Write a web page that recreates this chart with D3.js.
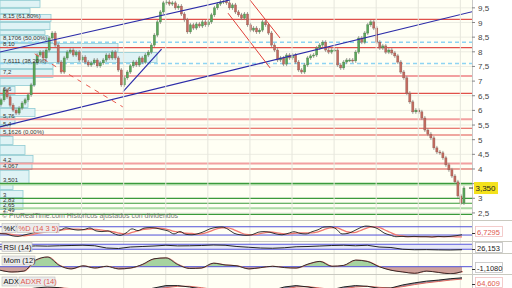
<!DOCTYPE html>
<html><head><meta charset="utf-8">
<script src="https://cdn.jsdelivr.net/npm/d3@7"></script>
<style>body{margin:0;background:#fff}svg{display:block}text{font-family:"Liberation Sans",Arial,sans-serif}</style>
</head><body><svg id="c" width="512" height="288"></svg>
<script>
// ---------- DATA ----------
const closes=[6.36,6.70,6.46,6.18,6.01,5.91,6.08,6.25,6.36,6.53,6.87,7.62,7.89,7.99,7.79,8.06,8.47,8.64,8.23,7.65,
7.31,7.79,7.99,8.06,7.89,7.99,7.72,7.82,7.65,7.55,7.62,7.72,7.52,7.62,7.72,7.89,7.79,7.99,7.79,7.38,
6.87,7.11,7.31,7.52,7.65,7.55,7.79,7.65,7.89,7.99,8.23,8.57,9.02,9.36,9.67,9.70,9.63,9.67,9.50,9.56,
9.29,9.09,8.68,8.92,8.81,8.95,8.88,9.02,8.92,9.02,9.26,9.50,9.63,9.70,9.73,9.67,9.50,9.60,9.36,9.26,
9.15,9.29,8.92,8.74,8.81,8.68,8.74,9.02,8.92,8.64,8.23,8.06,7.72,7.79,7.58,7.89,7.79,7.89,7.65,7.38,
7.31,7.55,7.79,7.86,7.89,8.13,8.23,8.33,8.06,7.99,8.06,8.06,7.55,7.45,7.65,7.72,7.72,7.69,7.99,8.47,
8.33,8.64,8.92,9.02,8.81,8.33,8.13,8.20,7.99,8.06,7.96,7.86,7.65,7.31,7.11,6.59,6.29,5.95,6.01,5.95,
5.74,5.33,5.19,5.06,4.72,4.58,4.55,4.38,4.14,3.97,3.76,3.56,3.08,2.84,3.35];
const firstOpen=6.20;
const lastPrice=3.35;
const priceTicks=[2.5,3,3.5,4,4.5,5,5.5,6,6.5,7,7.5,8,8.5,9,9.5];
const gridIdx=[26.8,40.8,54.8,68.8,82.8,96.8,110.8,124.8,138.8,152.8];
const redLevels=[9.11,8.14,6.58,5.39,5.16,4.00];
const pinkLevels=[7.17,5.70,4.19];
const blueDashLevels=[8.324,7.60];
const greenLevels=[3.51,3.00,2.83,2.45];
const lightGreenLevels=[3.47,2.66];
const profileEdges=[9.77,9.50,9.29,9.02,8.74,8.57,8.30,7.99,7.62,7.41,7.11,6.83,6.53,6.08,5.77,5.50,5.13,4.82,4.48,4.20,3.97,3.49,3.28,3.01,2.60];
const profileVol=[40,30,51,50,45,48,118,157,53,53,35,15,28,35,15,10,13,25,33,32,29,13,23,23];
const levelLabels=["8,15 (61,80%)","8,1706 (50,00%)","8,10","7,6111 (38,20%)","7,2","6,6","5,76","5,4","5,1626 (0,00%)","4,2","4,067","3,501","3","2,83","2,65","2,49"];
const levelLabelVals=[9.15,8.40,8.20,7.62,7.24,6.66,5.74,5.47,5.18,4.24,4.02,3.56,3.05,2.88,2.71,2.54];
const blueLines=[[-0.5,7.99,76.2,9.77],[-0.5,5.43,156.8,9.37],[40.6,6.64,53.4,8.09]];
const redLines=[[82.8,9.77,92.8,8.47],[75.5,9.32,89.5,7.45]];
const redDashedLines=[[11.2,7.93,40.5,6.12]];
const stochK=[30,28,15,10,20,30,40,45,50,55,56,72,62,56,60,71,50,45,50,30,18,35,65,52,70,74,70,60,50,28,45,25,22,30,45,65,75,78,62,33,
22,18,22,40,45,40,28,22,32,44,32,28,44,58,78,80,65,28,32,50,72,85,80,65,35,20,8,10,8,10,8,8,6,10,8,10,15,22];
const stochD=[32,30,24,18,15,20,30,38,45,50,54,61,63,63,59,62,60,55,48,42,33,28,39,51,62,65,71,68,60,46,41,33,31,26,32,47,62,73,72,58,
39,24,21,27,36,42,38,30,27,33,36,35,35,43,60,72,74,58,42,37,51,69,79,77,60,40,21,13,9,9,9,9,7,8,8,9,7,6.73];
const rsi=[50,45,52,57,55,58,60,62,58,40,36,48,52,56,62,57,58,60,64,62,52,46,40,38,42,50,52,56,60,62,58,62,48,44,30,26,27,25,24,26.15];
const mom=[-0.8,-1.2,-1.0,1.5,2.2,0.3,-0.5,0.2,-0.3,0.1,-0.5,-0.3,0.5,1.8,2.0,0.5,-0.4,-0.3,0.8,0.4,0.2,-0.5,-0.2,0.1,-0.2,-0.3,0.6,1.2,0.1,0.3,1.5,1.2,0.0,-0.8,-1.2,-1.5,-1.0,-1.3,-1.6,-1.108];
const adx=[30,28,30,35,38,36,30,28,25,22,20,22,28,35,42,42,38,32,28,25,22,20,22,28,38,42,38,32,30,38,42,40,34,35,44,50,55,58,62,64.6];
const adxr=[28,28,29,32,35,36,33,30,27,24,22,21,24,30,36,40,40,36,31,27,24,21,21,24,32,38,39,35,31,33,38,40,37,35,39,45,50,54,58,61];
const indLabels={k:"6,7295",rsi:"26,153",mom:"-1,1080",adx:"64,609"};

// ---------- DRAW ----------
const svg=d3.select("#c");
const W=472;
const fmt=v=>String(v).replace(".",",");
svg.append("rect").attr("width",512).attr("height",288).attr("fill","#ffffff");
svg.append("rect").attr("width",W).attr("height",288).attr("fill","#fffff4");

const x=d3.scaleBand().domain(d3.range(closes.length)).range([0,465]).paddingInner(0.3);
const xi=d3.scaleLinear().domain([0,closes.length-1]).range([x(0)+x.bandwidth()/2,x(closes.length-1)+x.bandwidth()/2]);
const y=d3.scaleLinear().domain([2.259,9.768]).range([220,0]);

const defs=svg.append("defs");
defs.append("clipPath").attr("id","mainClip").append("rect").attr("width",W).attr("height",220);
const main=svg.append("g").attr("clip-path","url(#mainClip)");

// vertical grid
svg.append("g").selectAll("line").data(gridIdx).join("line")
 .attr("x1",d=>xi(d)).attr("x2",d=>xi(d)).attr("y1",0).attr("y2",288)
 .attr("stroke","#e6e6dc").attr("stroke-width",1);
// horizontal grid
main.append("g").selectAll("line").data(priceTicks).join("line")
 .attr("x1",0).attr("x2",W).attr("y1",d=>y(d)).attr("y2",d=>y(d)).attr("stroke","#ececE2");

// volume profile
const vx=d3.scaleLinear().domain([0,100]).range([0,100]);
main.append("g").selectAll("rect").data(profileVol).join("rect")
 .attr("x",0).attr("y",(d,i)=>y(profileEdges[i])+0.5)
 .attr("width",d=>vx(d)).attr("height",(d,i)=>Math.max(1,y(profileEdges[i+1])-y(profileEdges[i])-1))
 .attr("fill","#d9f1f4").attr("fill-opacity",0.85).attr("stroke","#8fcbd3").attr("stroke-width",0.8);

// levels
function hl(vals,col,w,dash){
 main.append("g").selectAll("line").data(vals).join("line")
  .attr("x1",0).attr("x2",W).attr("y1",d=>y(d)).attr("y2",d=>y(d))
  .attr("stroke",col).attr("stroke-width",w).attr("stroke-dasharray",dash||null);
}
hl(pinkLevels,"#f2a0a0",2);
hl(redLevels,"#e0504a",1.2);
hl(blueDashLevels,"#8ed4f2",1.5,"4,3");
hl(lightGreenLevels,"#a9d9a3",2);
hl(greenLevels,"#3a9a3a",1.2);

// candles
const opens=closes.map((c,i)=>i===0?firstOpen:closes[i-1]);
const cg=main.append("g");
closes.forEach((c,i)=>{
 const o=opens[i],up=c>=o;
 const top=y(Math.max(o,c)),bot=y(Math.min(o,c));
 const cx=x(i)+x.bandwidth()/2;
 cg.append("line").attr("x1",cx).attr("x2",cx).attr("y1",top-2).attr("y2",bot+2).attr("stroke","#8a8a84").attr("stroke-width",0.8);
 cg.append("rect").attr("x",x(i)).attr("y",top).attr("width",x.bandwidth()).attr("height",Math.max(1,bot-top))
  .attr("fill",up?"#5aa85a":"#c46a5e").attr("stroke",up?"#4a7a4a":"#8a5a55").attr("stroke-width",0.4);
});

// trend lines
function tl(arr,col,w,dash){
 main.append("g").selectAll("line").data(arr).join("line")
  .attr("x1",d=>xi(d[0])).attr("y1",d=>y(d[1])).attr("x2",d=>xi(d[2])).attr("y2",d=>y(d[3]))
  .attr("stroke",col).attr("stroke-width",w).attr("stroke-dasharray",dash||null);
}
tl(blueLines,"#2c2ca8",1.2);
tl(redLines,"#e0403a",1);
tl(redDashedLines,"#e85a50",1,"5,5");

// level labels
main.append("g").selectAll("text").data(levelLabels).join("text")
 .attr("x",3).attr("y",(d,i)=>y(levelLabelVals[i])).attr("font-size",6).attr("fill","#333").text(d=>d);

// copyright
svg.append("text").attr("x",2).attr("y",218).attr("font-size",7).attr("fill","#777")
 .text("© ProRealTime.com  Históricos ajustados con dividendos");

// right axis
svg.append("line").attr("x1",W+0.5).attr("x2",W+0.5).attr("y1",0).attr("y2",288).attr("stroke","#c8c8c8");
const ax=svg.append("g");
ax.selectAll("text").data(priceTicks).join("text")
 .attr("x",478).attr("y",d=>y(d)+3).attr("font-size",8).attr("fill","#444").text(d=>fmt(d));
ax.selectAll("line").data(priceTicks).join("line")
 .attr("x1",W).attr("x2",W+3).attr("y1",d=>y(d)).attr("y2",d=>y(d)).attr("stroke","#888");
svg.append("rect").attr("x",474).attr("y",y(lastPrice)-6).attr("width",24).attr("height",12).attr("fill","#f4e21c");
svg.append("text").attr("x",475.5).attr("y",y(lastPrice)+3).attr("font-size",8).attr("fill","#222").text(lastPrice.toFixed(3).replace(".",","));
svg.append("line").attr("x1",469).attr("x2",473).attr("y1",y(lastPrice)).attr("y2",y(lastPrice)).attr("stroke","#333");

// panel separators
[220.5,241.5,253.5,274.5].forEach(v=>{
 svg.append("line").attr("x1",0).attr("x2",512).attr("y1",v).attr("y2",v).attr("stroke","#c9c9c0");
});

// indicator panels
function clip(id,y0,y1){defs.append("clipPath").attr("id",id).append("rect").attr("x",0).attr("y",y0).attr("width",W).attr("height",y1-y0);}
clip("pK",221,241);clip("pR",242,253);clip("pM",254,274);clip("pA",275,288);
const xs=d3.scaleLinear().domain([0,stochK.length-1]).range([0,462]);
const xr=d3.scaleLinear().domain([0,rsi.length-1]).range([0,462]);

// stochastic
const yK=d3.scaleLinear().domain([0,100]).range([237.8,224]);
const gK=svg.append("g").attr("clip-path","url(#pK)");
[80,20].forEach(v=>gK.append("line").attr("x1",0).attr("x2",W).attr("y1",yK(v)).attr("y2",yK(v)).attr("stroke","#5050d8").attr("stroke-width",1));
gK.append("path").datum(stochD).attr("d",d3.line().x((d,i)=>xs(i)).y(d=>yK(d)).curve(d3.curveMonotoneX)).attr("fill","none").attr("stroke","#f07a70").attr("stroke-width",1.3);
gK.append("path").datum(stochK).attr("d",d3.line().x((d,i)=>xs(i)).y(d=>yK(d)).curve(d3.curveMonotoneX)).attr("fill","none").attr("stroke","#222").attr("stroke-width",0.9);

// RSI
const yR=d3.scaleLinear().domain([0,100]).range([253,240.5]);
const gR=svg.append("g").attr("clip-path","url(#pR)");
gR.append("rect").attr("x",0).attr("width",W).attr("y",yR(70)).attr("height",yR(30)-yR(70)).attr("fill","#e6e8f6");
[70,30].forEach(v=>gR.append("line").attr("x1",0).attr("x2",W).attr("y1",yR(v)).attr("y2",yR(v)).attr("stroke","#5a5ae0").attr("stroke-width",1));
gR.append("path").datum(rsi).attr("d",d3.line().x((d,i)=>xr(i)).y(d=>yR(d))).attr("fill","none").attr("stroke","#222").attr("stroke-width",1);

// Momentum
const yM=d3.scaleLinear().domain([-2,2.5]).range([275.5,255.7]);
const gM=svg.append("g").attr("clip-path","url(#pM)");
defs.append("clipPath").attr("id","mUp").append("rect").attr("x",0).attr("y",250).attr("width",W).attr("height",yM(0)-250);
defs.append("clipPath").attr("id","mDn").append("rect").attr("x",0).attr("y",yM(0)).attr("width",W).attr("height",30);
const area=d3.area().x((d,i)=>xr(i)).y0(yM(0)).y1(d=>yM(d)).curve(d3.curveMonotoneX);
gM.append("g").attr("clip-path","url(#mUp)").append("path").datum(mom).attr("d",area).attr("fill","#a6d3a0");
gM.append("g").attr("clip-path","url(#mDn)").append("path").datum(mom).attr("d",area).attr("fill","#cfa29c");
gM.append("line").attr("x1",0).attr("x2",W).attr("y1",yM(0)).attr("y2",yM(0)).attr("stroke","#5050d8").attr("stroke-width",1);
gM.append("path").datum(mom).attr("d",d3.line().x((d,i)=>xr(i)+1).y(d=>yM(d)).curve(d3.curveMonotoneX)).attr("fill","none").attr("stroke","#e07a70").attr("stroke-width",1);
gM.append("path").datum(mom).attr("d",d3.line().x((d,i)=>xr(i)).y(d=>yM(d)).curve(d3.curveMonotoneX)).attr("fill","none").attr("stroke","#222").attr("stroke-width",0.9);

// ADX
const yA=d3.scaleLinear().domain([0,70]).range([300,276]);
const gA=svg.append("g").attr("clip-path","url(#pA)");
gA.append("path").datum(adx).attr("d",d3.area().x((d,i)=>xr(i)).y0((d,i)=>yA(adxr[i])).y1(d=>yA(d))).attr("fill","#8d8fa6");
gA.append("path").datum(adxr).attr("d",d3.line().x((d,i)=>xr(i)).y(d=>yA(d))).attr("fill","none").attr("stroke","#e06a60").attr("stroke-width",1);
gA.append("path").datum(adx).attr("d",d3.line().x((d,i)=>xr(i)).y(d=>yA(d))).attr("fill","none").attr("stroke","#222").attr("stroke-width",1);

// panel labels
function tag(xp,yp,txt,col,w){
 svg.append("rect").attr("x",xp).attr("y",yp).attr("width",w).attr("height",9).attr("fill","#ececec").attr("stroke","#bdbdbd").attr("stroke-width",0.6);
 svg.append("text").attr("x",xp+1.5).attr("y",yp+7.3).attr("font-size",7.5).attr("fill",col).text(txt);
}
tag(2,223.5,"%K","#111",14);
tag(17,223.5,"%D (14 3 5)","#e05a50",42);
tag(2,242.5,"RSI (14)","#111",30);
tag(2,256,"Mom (12)","#111",33);
tag(2,277,"ADX","#111",15);
tag(19,277,"ADXR (14)","#e05a50",36);

// right value tags
function vtag(yp,txt,col,stroke){
 svg.append("rect").attr("x",475.5).attr("y",yp-5).attr("width",27).attr("height",10).attr("fill","#fff").attr("stroke",stroke).attr("stroke-width",0.8);
 svg.append("text").attr("x",477).attr("y",yp+3).attr("font-size",7.5).attr("fill",col).text(txt);
 svg.append("line").attr("x1",472).attr("x2",475).attr("y1",yp+2).attr("y2",yp+2).attr("stroke","#333");
}
vtag(231.5,indLabels.k,"#e05a50","#f0c0c0");
vtag(247.5,indLabels.rsi,"#222","#c0c0c0");
vtag(267.5,indLabels.mom,"#222","#c0c0c0");
vtag(282.5,indLabels.adx,"#e05a50","#f0c0c0");
</script></body></html>
